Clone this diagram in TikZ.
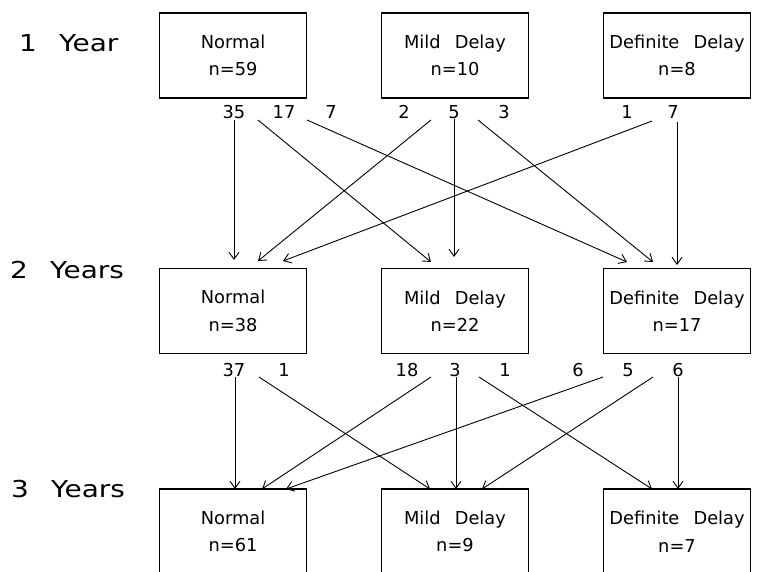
\documentclass[tikz,border=0pt]{standalone}
\usepackage{fontspec}
\setmainfont{DejaVu Sans}[WordSpace=2.5]
\newfontfamily\rowfont{DejaVu Sans}[WordSpace=2.5,FakeStretch=1.2]
\usetikzlibrary{arrows.meta}
\begin{document}
\begin{tikzpicture}[x=1pt,y=-1pt,
  box/.style={draw,line width=1.2pt,minimum width=147pt,minimum height=85pt,inner sep=0pt,align=center,font=\fontsize{17.8}{27.5}\selectfont},
  cnt/.style={font=\fontsize{17.8}{20}\selectfont,inner sep=0pt},
  lbl/.style={font=\rowfont\fontsize{23.3}{26}\selectfont,anchor=base west,inner sep=0pt},
  flow/.style={line width=0.9pt,-{Straight Barb[length=7pt,width=10pt]}}]
\useasboundingbox (0,0) rectangle (757,571);
\clip (0,0) rectangle (757,571);
% row labels
\node[lbl] (y1) at (19,51) {1 Year};
\node[lbl] (y2) at (10,278) {2 Years};
\node[lbl] (y3) at (11,497) {3 Years};
% boxes
\node[box] (N1) at (233,55.5) {Normal\\n=59};
\node[box] (M1) at (455,55.5) {Mild Delay\\n=10};
\node[box] (D1) at (677,55.5) {Definite Delay\\n=8};
\node[box] (N2) at (233,311) {Normal\\n=38};
\node[box] (M2) at (455,311) {Mild Delay\\n=22};
\node[box] (D2) at (677,311) {Definite Delay\\n=17};
\node[box] (N3) at (233,531.5) {Normal\\n=61};
\node[box] (M3) at (455,531.5) {Mild Delay\\n=9};
\node[box] (D3) at (677,531.5) {Definite Delay\\n=7};
% counts row 1
\node[cnt] (c1) at (234,112) {35};
\node[cnt] (c2) at (284,112) {17};
\node[cnt] (c3) at (331,112) {7};
\node[cnt] (c4) at (404,112) {2};
\node[cnt] (c5) at (454,112) {5};
\node[cnt] (c6) at (504,112) {3};
\node[cnt] (c7) at (627,112) {1};
\node[cnt] (c8) at (673,112) {7};
% counts row 2
\node[cnt] (d1) at (234,370) {37};
\node[cnt] (d2) at (284,370) {1};
\node[cnt] (d3) at (407,370) {18};
\node[cnt] (d4) at (455,370) {3};
\node[cnt] (d5) at (505,370) {1};
\node[cnt] (d6) at (578,370) {6};
\node[cnt] (d7) at (628,370) {5};
\node[cnt] (d8) at (678,370) {6};
% connector end points
\coordinate (sN35) at (234,120); \coordinate (eN2a) at (234,260);
\coordinate (sN17) at (258,120); \coordinate (eM2a) at (431,262);
\coordinate (sN7)  at (307,120); \coordinate (eD2a) at (627,262);
\coordinate (sM2)  at (431,120); \coordinate (eN2b) at (258,261);
\coordinate (sM5)  at (454,119); \coordinate (eM2b) at (454,257);
\coordinate (sM3)  at (478,120); \coordinate (eD2b) at (653,262);
\coordinate (sD1)  at (652,121); \coordinate (eN2c) at (283,261);
\coordinate (sD7)  at (677,122); \coordinate (eD2c) at (677,265);
\coordinate (sN37) at (235,377); \coordinate (eN3a) at (235,489);
\coordinate (sN1)  at (259,377); \coordinate (eM3a) at (430,489);
\coordinate (sM18) at (431,377); \coordinate (eN3b) at (262,489);
\coordinate (sM3b) at (456,377); \coordinate (eM3b) at (456,489);
\coordinate (sM1)  at (479,377); \coordinate (eD3a) at (652,489);
\coordinate (sD6)  at (603,377); \coordinate (eN3c) at (286,489);
\coordinate (sD5)  at (653,377); \coordinate (eM3c) at (482,489);
\coordinate (sD6b) at (678,377); \coordinate (eD3b) at (678,489);
% connectors
\draw[flow] (sN35) -- (eN2a);
\draw[flow] (sN17) -- (eM2a);
\draw[flow] (sN7) -- (eD2a);
\draw[flow] (sM2) -- (eN2b);
\draw[flow] (sM5) -- (eM2b);
\draw[flow] (sM3) -- (eD2b);
\draw[flow] (sD1) -- (eN2c);
\draw[flow] (sD7) -- (eD2c);
\draw[flow] (sN37) -- (eN3a);
\draw[flow] (sN1) -- (eM3a);
\draw[flow] (sM18) -- (eN3b);
\draw[flow] (sM3b) -- (eM3b);
\draw[flow] (sM1) -- (eD3a);
\draw[flow] (sD6) -- (eN3c);
\draw[flow] (sD5) -- (eM3c);
\draw[flow] (sD6b) -- (eD3b);
\end{tikzpicture}
\end{document}
